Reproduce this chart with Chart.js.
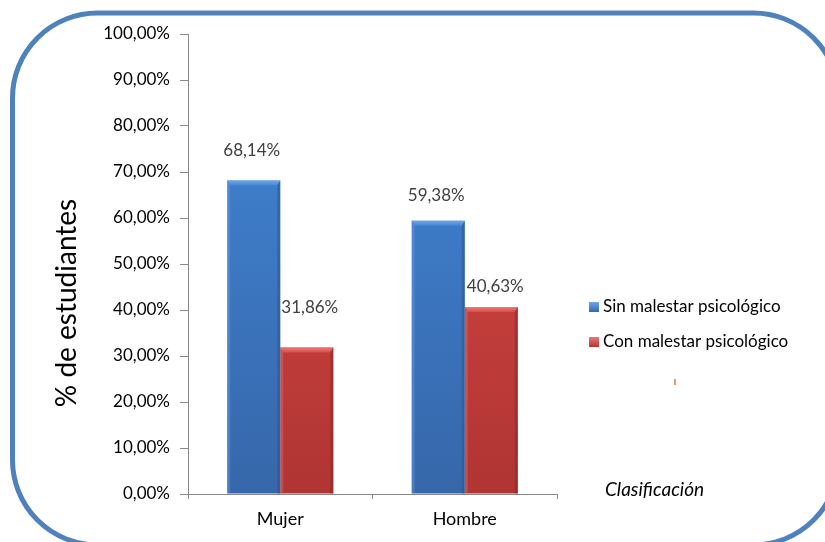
<!DOCTYPE html>
<html><head><meta charset="utf-8">
<script src="https://cdn.jsdelivr.net/npm/chart.js@4/dist/chart.umd.min.js"></script>
<style>html,body{margin:0;padding:0;background:#fff;overflow:hidden}#wrap{width:825px;height:542px;position:relative}</style>
</head><body><div id="wrap"><canvas id="c"></canvas></div>
<script>
const categories = ['Mujer', 'Hombre'];
const sinMalestar = [68.14, 59.38];
const conMalestar = [31.86, 40.63];
const seriesNames = ['Sin malestar psicológico', 'Con malestar psicológico'];
const yMin = 0, yMax = 100, yStep = 10;
const yTitle = '% de estudiantes';
const xTitle = 'Clasificación';

const FONT = 'Lato, "Open Sans", sans-serif';
const fmt = v => v.toFixed(2).replace('.', ',') + '%';

const palette = [
  {top: '#4287d8', bottom: '#3667aa', light: '#6ea6e8', dark: '#2c5690'},
  {top: '#dc4b47', bottom: '#b03533', light: '#ec7a76', dark: '#8e2826'}
];
// label nudges relative to each bar top (style only)
const labelNudge = [[{dx: -2, dy: 30}, {dx: -2, dy: 25}], [{dx: 3, dy: 40}, {dx: 4, dy: 21}]];

function grad(ctx, i) {
  const ca = ctx.chart.chartArea;
  if (!ca) return palette[i].top;
  const g = ctx.chart.ctx.createLinearGradient(0, ca.top, 0, ca.bottom);
  g.addColorStop(0, palette[i].top);
  g.addColorStop(1, palette[i].bottom);
  return g;
}

const decor = {
  id: 'decor',
  beforeDraw(chart) {
    const c = chart.ctx;
    c.save(); c.fillStyle = '#fff'; c.fillRect(0, 0, chart.width, chart.height); c.restore();
  },
  afterDatasetsDraw(chart) {
    const c = chart.ctx;
    chart.data.datasets.forEach((ds, di) => {
      chart.getDatasetMeta(di).data.forEach((bar, j) => {
        const L = bar.x - bar.width / 2, R = bar.x + bar.width / 2, T = bar.y, B = bar.base;
        const b = 5, s = 3;
        c.save();
        const tg = c.createLinearGradient(0, T, 0, T + b);
        tg.addColorStop(0, palette[di].light); tg.addColorStop(1, palette[di].top);
        c.fillStyle = tg;
        c.beginPath(); c.moveTo(L, T); c.lineTo(R, T); c.lineTo(R - s, T + b); c.lineTo(L + s, T + b); c.closePath(); c.fill();
        c.fillStyle = palette[di].dark; c.globalAlpha = 0.55;
        c.beginPath(); c.moveTo(R, T); c.lineTo(R, B); c.lineTo(R - s, B); c.lineTo(R - s, T + b); c.closePath(); c.fill();
        c.fillStyle = palette[di].light; c.globalAlpha = 0.35;
        c.beginPath(); c.moveTo(L, T); c.lineTo(L + s, T + b); c.lineTo(L + s, B); c.lineTo(L, B); c.closePath(); c.fill();
        c.globalAlpha = 1;
        const n = labelNudge[di][j];
        c.fillStyle = '#404040';
        c.font = '17px ' + FONT;
        c.textAlign = 'center'; c.textBaseline = 'middle';
        c.fillText(fmt(ds.data[j]), bar.x + n.dx, T - n.dy);
        c.restore();
      });
    });
  },
  afterDraw(chart) {
    const c = chart.ctx;
    c.save();
    c.translate(67, 303); c.rotate(-Math.PI / 2);
    c.fillStyle = '#000'; c.font = '28px ' + FONT;
    c.textAlign = 'center'; c.textBaseline = 'middle';
    c.fillText(yTitle, 0, 0);
    c.restore();
    c.save();
    c.fillStyle = '#000'; c.font = 'italic 19px ' + FONT;
    c.textAlign = 'left'; c.textBaseline = 'middle';
    c.fillText(xTitle, 605, 490);
    seriesNames.forEach((name, i) => {
      const y = 307 + i * 35;
      const g = c.createLinearGradient(0, y - 5, 0, y + 5);
      g.addColorStop(0, palette[i].light); g.addColorStop(1, palette[i].bottom);
      c.fillStyle = g;
      c.fillRect(589, y - 5, 10, 10);
      c.fillStyle = '#000'; c.font = '17px ' + FONT;
      c.fillText(name, 603, y);
    });
    c.strokeStyle = '#d08040'; c.lineWidth = 1.5;
    c.beginPath(); c.moveTo(675, 379); c.lineTo(675, 385); c.stroke();
    c.strokeStyle = '#4f81bd'; c.lineWidth = 5;
    c.beginPath(); c.roundRect(12.5, 13, 826, 532, 85); c.stroke();
    c.restore();
  }
};

new Chart(document.getElementById('c'), {
  type: 'bar',
  data: {
    labels: categories,
    datasets: [
      {label: seriesNames[0], data: sinMalestar, backgroundColor: ctx => grad(ctx, 0), borderWidth: 0},
      {label: seriesNames[1], data: conMalestar, backgroundColor: ctx => grad(ctx, 1), borderWidth: 0}
    ]
  },
  options: {
    responsive: true, maintainAspectRatio: false, devicePixelRatio: 1, animation: false,
    layout: {padding: {left: 88, top: 34, right: 268, bottom: 0}},
    datasets: {bar: {categoryPercentage: 0.575, barPercentage: 1}},
    plugins: {legend: {display: false}, tooltip: {enabled: false}},
    scales: {
      x: {
        afterFit: s => { s.height = 48; },
        grid: {drawOnChartArea: false, drawTicks: true, tickLength: 5, color: '#888', offset: true},
        border: {display: true, color: '#888'},
        ticks: {color: '#000', font: {family: FONT, size: 18}, padding: 9}
      },
      y: {
        min: yMin, max: yMax,
        afterFit: s => { s.width = 100; },
        grid: {drawOnChartArea: false, drawTicks: true, tickLength: 8, color: '#888'},
        border: {display: true, color: '#888'},
        ticks: {stepSize: yStep, color: '#000', font: {family: FONT, size: 17}, padding: 10, callback: v => fmt(v)}
      }
    }
  },
  plugins: [decor]
});
</script></body></html>
